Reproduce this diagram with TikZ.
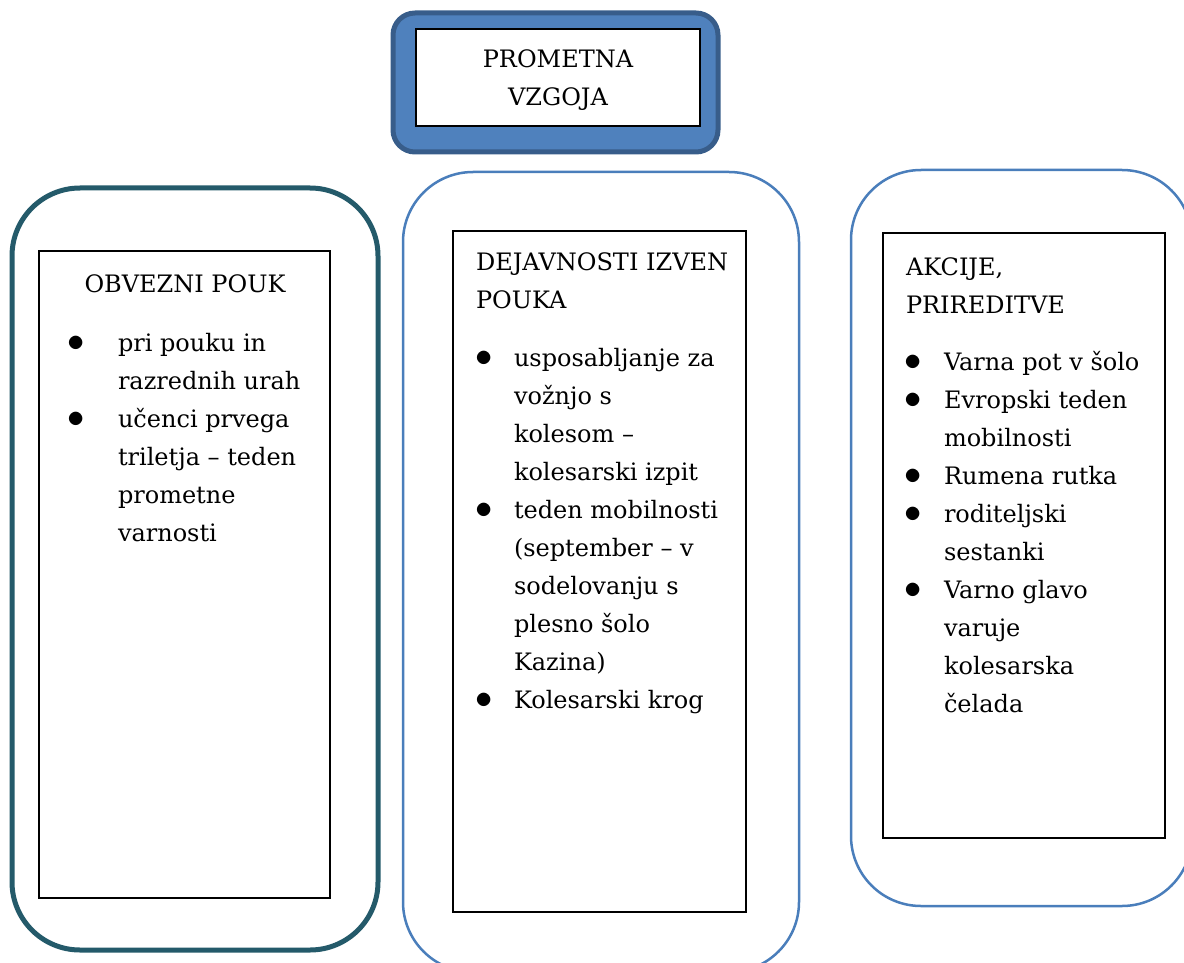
\documentclass[tikz,border=0pt]{standalone}
\usepackage{fontspec}
\setmainfont{DejaVu Serif}
\definecolor{accent}{RGB}{79,129,189}
\definecolor{accentdark}{RGB}{56,93,138}
\definecolor{framebl}{RGB}{74,126,187}
\definecolor{frameteal}{RGB}{36,90,106}
% bullet hanging left of the item text
\newcommand{\bul}[1][11pt]{\llap{{\fontsize{17}{19}\selectfont$\bullet$}\hspace{#1}}}

\begin{document}
\begin{tikzpicture}[x=0.5pt,y=-0.5pt
  ,every node/.style={inner sep=0pt,outer sep=0pt}
  ,txt/.style={font=\fontsize{12}{19}\selectfont,align=left,anchor=base west}
  ,frame/.style={draw=framebl,line width=1.25pt,rounded corners=35pt}
  ,card/.style={draw=black,line width=1pt,anchor=north west}]

  \useasboundingbox (0,0) rectangle (1184,963);
  \clip (0,0) rectangle (1184,963);

  % title on top (base = last line)
  \draw[fill=accent,draw=accentdark,line width=2.5pt,rounded corners=11pt]
    (393,13) rectangle (718,152);
  \node[card,fill=white,minimum width=142pt,minimum height=48.5pt] (tbox) at (416,29) {};
  \node[txt,align=center,anchor=base] (title) at (558,106) {PROMETNA\\VZGOJA};

  % three frames
  \draw[frame,draw=frameteal,line width=2.5pt,rounded corners=34pt] (12,188) rectangle (378,950);
  \draw[frame] (403,172) rectangle (799,972);
  \draw[frame] (851,170) rectangle (1192,906);

  % left: obvezni pouk
  \node[card,minimum width=145.5pt,minimum height=323.5pt] (obv) at (39,251) {};
  \node[txt,anchor=base] (obvhead) at (185,292) {OBVEZNI POUK};
  \node[txt] (obvlist) at (118,541) {\bul[16.5pt]pri pouku in\\razrednih urah\\
    \bul[16.5pt]učenci prvega\\triletja – teden\\prometne\\varnosti};

  % middle: dejavnosti izven pouka
  \node[card,minimum width=146.5pt,minimum height=340.5pt] (dej) at (453,231) {};
  \node[txt] (dejhead) at (476,308) {DEJAVNOSTI IZVEN\\POUKA};
  \node[txt] (dejlist) at (514,708) {\bul[10.5pt]usposabljanje za\\vožnjo s\\kolesom –\\kolesarski izpit\\
    \bul[10.5pt]teden mobilnosti\\(september – v\\sodelovanju s\\plesno šolo\\Kazina)\\
    \bul[10.5pt]Kolesarski krog};

  % right: akcije, prireditve
  \node[card,minimum width=141pt,minimum height=302.5pt] (akc) at (883,233) {};
  \node[txt] (akchead) at (906,313) {AKCIJE,\\PRIREDITVE};
  \node[txt] (akclist) at (944,712) {\bul Varna pot v šolo\\\bul Evropski teden\\mobilnosti\\
    \bul Rumena rutka\\\bul roditeljski\\sestanki\\\bul Varno glavo\\varuje\\kolesarska\\čelada};
\end{tikzpicture}
\end{document}
